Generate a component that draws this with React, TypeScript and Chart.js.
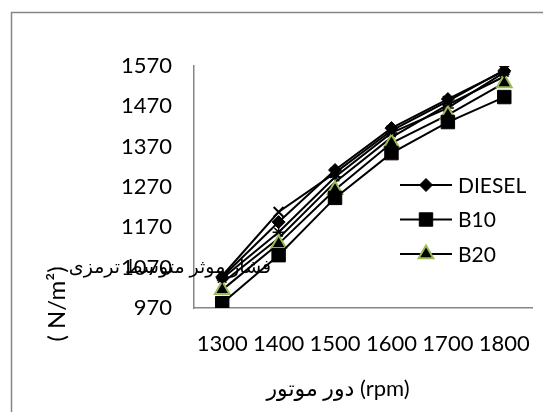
import React, { useEffect, useRef } from "react";
import { Chart, registerables } from "chart.js";
import { drawPoint } from "chart.js/helpers";

Chart.register(...registerables);

const categories = ["1300", "1400", "1500", "1600", "1700", "1800"];
const dieselValues = [1047, 1183, 1312, 1416, 1488, 1558];
const b10Values = [982, 1101, 1243, 1354, 1431, 1493];
const b20Values = [1015, 1129, 1263, 1379, 1449, 1528];
// unlabeled series visible in the plot but absent from the legend
const extraXValues = [1050, 1208, 1305, 1410, 1483, 1560];
const extraStarValues = [1043, 1158, 1295, 1404, 1466, 1554];
const extraPlainValues = [1032, 1143, 1282, 1393, 1474, 1544];
const yTickValues = [970, 1070, 1170, 1270, 1370, 1470, 1570];
const legendLabels = ["DIESEL", "B10", "B20"];
const xTitle = "دور موتور (rpm)";
const yTitleText = "فشار موثر متوسط ترمزی";
const yTitleUnit = "( N/m²)";

const FONT = "Lato, 'DejaVu Sans', sans-serif";
const AXIS_GRAY = "#868686";
const OLIVE = "#9bbb59";

const decorPlugin = {
  id: "decor",
  beforeDraw(chart: any) {
    const ctx = chart.ctx;
    ctx.save();
    ctx.fillStyle = "#ffffff";
    ctx.fillRect(0, 0, chart.width, chart.height);
    ctx.strokeStyle = AXIS_GRAY;
    ctx.lineWidth = 1.5;
    ctx.strokeRect(11.5, 12.5, chart.width + 20, chart.height + 20);
    ctx.restore();
  },
  afterDraw(chart: any) {
    const ctx = chart.ctx;
    ctx.save();
    // legend
    const items = chart.data.datasets.filter((d: any) => d.inLegend);
    const lx0 = 400, lx1 = 452, ly0 = 185, lgap = 34.5;
    items.forEach((d: any, i: number) => {
      const y = ly0 + i * lgap;
      ctx.strokeStyle = "#000";
      ctx.lineWidth = 2;
      ctx.beginPath();
      ctx.moveTo(lx0, y);
      ctx.lineTo(lx1, y);
      ctx.stroke();
      ctx.fillStyle = d.pointBackgroundColor;
      ctx.strokeStyle = d.pointBorderColor;
      ctx.lineWidth = d.pointBorderWidth;
      drawPoint(ctx, { pointStyle: d.pointStyle, radius: d.pointRadius, rotation: 0, borderWidth: d.pointBorderWidth }, (lx0 + lx1) / 2, y);
      ctx.fillStyle = "#000";
      ctx.font = `21px ${FONT}`;
      ctx.textAlign = "left";
      ctx.textBaseline = "middle";
      ctx.fillText(d.label, lx1 + 6, y + 1);
    });
    // x title
    ctx.fillStyle = "#000";
    ctx.font = `22px ${FONT}`;
    ctx.textAlign = "center";
    ctx.textBaseline = "middle";
    ctx.fillText(xTitle, 338, 389);
    // y title: persian part horizontal, unit vertical
    ctx.font = `19px ${FONT}`;
    ctx.fillText(yTitleText, 170, 267);
    ctx.save();
    ctx.translate(57, 304);
    ctx.rotate(-Math.PI / 2);
    ctx.font = `24px ${FONT}`;
    ctx.fillText(yTitleUnit, 0, 0);
    ctx.restore();
    ctx.restore();
  },
};

export default function App() {
  const ref = useRef<HTMLCanvasElement | null>(null);
  useEffect(() => {
    if (!ref.current) return;
    const mk = (label: string, data: number[], style: any, inLegend: boolean) => ({
      label,
      data,
      inLegend,
      borderColor: "#000",
      borderWidth: 2,
      tension: 0,
      fill: false,
      ...style,
    });
    const chart = new Chart(ref.current, {
      type: "line",
      data: {
        labels: categories,
        datasets: [
          mk(legendLabels[0], dieselValues, { pointStyle: "rectRot", pointRadius: 6.5, pointBackgroundColor: "#000", pointBorderColor: "#000", pointBorderWidth: 1 }, true),
          mk(legendLabels[1], b10Values, { pointStyle: "rect", pointRadius: 9.5, pointBackgroundColor: "#000", pointBorderColor: "#000", pointBorderWidth: 1 }, true),
          mk(legendLabels[2], b20Values, { pointStyle: "triangle", pointRadius: 8.5, pointBackgroundColor: "#000", pointBorderColor: OLIVE, pointBorderWidth: 2 }, true),
          mk("s4", extraXValues, { pointStyle: "crossRot", pointRadius: 7, pointBackgroundColor: "#000", pointBorderColor: "#000", pointBorderWidth: 2 }, false),
          mk("s5", extraStarValues, { pointStyle: "star", pointRadius: 6, pointBackgroundColor: "#000", pointBorderColor: "#000", pointBorderWidth: 1.5 }, false),
          mk("s6", extraPlainValues, { pointStyle: "circle", pointRadius: 0, pointBackgroundColor: "#000", pointBorderColor: "#000", pointBorderWidth: 0 }, false),
        ],
      },
      options: {
        responsive: false,
        animation: false,
        events: [],
        layout: { padding: { top: 66, right: 5, left: 0, bottom: 0 } },
        plugins: { legend: { display: false }, tooltip: { enabled: false }, title: { display: false } },
        scales: {
          x: {
            type: "category",
            offset: true,
            grid: { display: false, drawTicks: false },
            border: { display: true, color: AXIS_GRAY, width: 1.5 },
            ticks: { color: "#000", font: { family: FONT, size: 22 }, padding: 23, maxRotation: 0, autoSkip: false },
            afterFit: (s: any) => { s.height = 104; s.paddingLeft = 0; s.paddingRight = 0; },
          },
          y: {
            type: "linear",
            min: yTickValues[0],
            max: yTickValues[yTickValues.length - 1],
            grid: { display: false, drawTicks: false },
            border: { display: true, color: AXIS_GRAY, width: 1.5 },
            afterBuildTicks: (s: any) => { s.ticks = yTickValues.map((v) => ({ value: v })); },
            ticks: { color: "#000", font: { family: FONT, size: 22 }, padding: 22, callback: (v: any) => String(v) },
            afterFit: (s: any) => { s.width = 194; s.paddingTop = 0; s.paddingBottom = 0; },
          },
        },
      },
      plugins: [decorPlugin],
    } as any);
    return () => chart.destroy();
  }, []);
  return (
    <div style={{ position: "absolute", left: 0, top: 0, width: 543, height: 412 }}>
      <canvas ref={ref} width={543} height={412} />
    </div>
  );
}
